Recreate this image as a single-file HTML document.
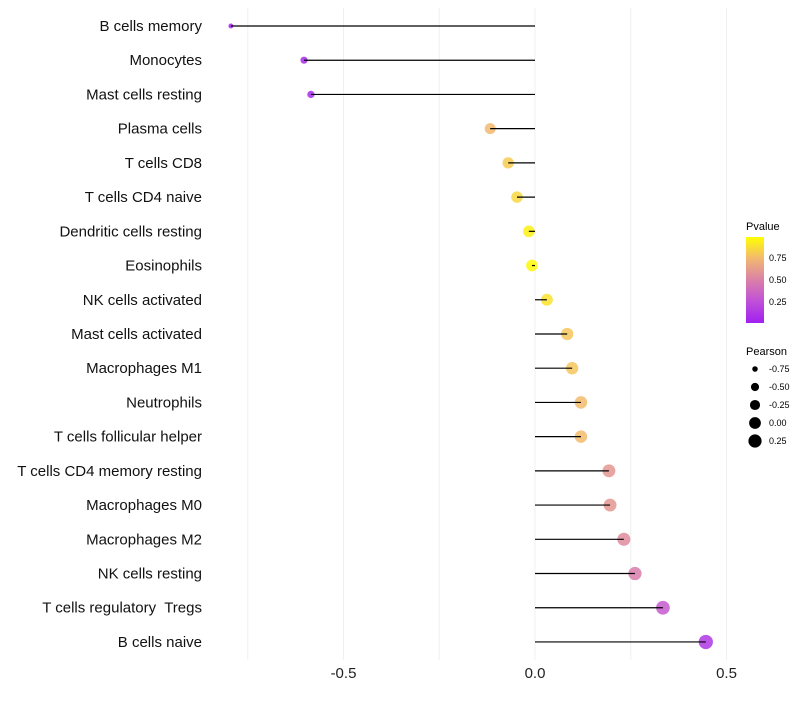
<!DOCTYPE html>
<html><head><meta charset="utf-8"><style>
body{margin:0;background:#fff;font-family:"Liberation Sans",sans-serif}
text{white-space:pre}
</style></head><body>
<svg id="chart" width="800" height="700" xmlns="http://www.w3.org/2000/svg">
<defs><linearGradient id="pg" x1="0" y1="1" x2="0" y2="0">
<stop offset="0" stop-color="#A020F0"/><stop offset="0.25" stop-color="#C050D8"/>
<stop offset="0.5" stop-color="#DA80A8"/><stop offset="0.75" stop-color="#F2B870"/>
<stop offset="1" stop-color="#FFFF00"/></linearGradient></defs>
<g id="grid"></g><g id="marks"></g><g id="labels"></g>
<g>
<text x="746" y="230" font-size="11">Pvalue</text>
<rect x="746" y="237" width="18" height="86" fill="url(#pg)"/>
<text x="769" y="261" font-size="9">0.75</text>
<text x="769" y="283" font-size="9">0.50</text>
<text x="769" y="305" font-size="9">0.25</text>
</g>
<g id="sizeleg">
<text x="746" y="355" font-size="11">Pearson</text>
</g>
</svg>
<script>
const categories=["B cells memory","Monocytes","Mast cells resting","Plasma cells","T cells CD8","T cells CD4 naive","Dendritic cells resting","Eosinophils","NK cells activated","Mast cells activated","Macrophages M1","Neutrophils","T cells follicular helper","T cells CD4 memory resting","Macrophages M0","Macrophages M2","NK cells resting","T cells regulatory  Tregs","B cells naive"];
const pearson=[-0.794,-0.603,-0.585,-0.117,-0.07,-0.047,-0.016,-0.008,0.031,0.084,0.097,0.12,0.12,0.193,0.196,0.232,0.261,0.334,0.446];
const pvalues=[0.02,0.05,0.06,0.75,0.82,0.86,0.95,0.98,0.9,0.8,0.8,0.76,0.76,0.6,0.6,0.55,0.48,0.3,0.12];
const xTicks=[-0.5,0,0.5];
const sizeLegend=[-0.75,-0.5,-0.25,0,0.25];
const NS="http://www.w3.org/2000/svg";
const x=v=>535+v*383;
const y=i=>26+i*34.22;
const rad=v=>Math.sqrt(Math.max(1,4+ (v+0.85)*36));
function col(p){const st=[[0,[160,32,240]],[0.25,[192,80,216]],[0.5,[218,128,168]],[0.75,[242,184,112]],[1,[255,255,0]]];
for(let k=1;k<st.length;k++){if(p<=st[k][0]){const t=(p-st[k-1][0])/(st[k][0]-st[k-1][0]);const a=st[k-1][1],b=st[k][1];return `rgb(${a.map((c,j)=>Math.round(c+(b[j]-c)*t)).join(",")})`;}}return "rgb(255,255,0)";}
function mk(tag,attrs,parent){const e=document.createElementNS(NS,tag);for(const k in attrs)e.setAttribute(k,attrs[k]);parent.appendChild(e);return e;}
const grid=document.getElementById('grid'),marks=document.getElementById('marks'),labels=document.getElementById('labels');
[-0.75,-0.5,-0.25,0,0.25,0.5].forEach(v=>{const l=mk('line',{x1:x(v),x2:x(v),y1:8,y2:660,stroke:'#f0f0f0','stroke-width':1},grid);

});
xTicks.forEach(v=>{const t=mk('text',{x:x(v),y:678,'font-size':15,'text-anchor':'middle',fill:'#222'},labels);t.textContent=v.toFixed(1);

});
categories.forEach((c,i)=>{
const t=mk('text',{x:202,y:y(i)+5,'font-size':15,'text-anchor':'end',fill:'#111'},labels);t.textContent=c;


const p=mk('circle',{cx:x(pearson[i]),cy:y(i),r:rad(pearson[i]),fill:col(pvalues[i]),'fill-opacity':0.85},marks);


const s=mk('line',{x1:x(0),x2:x(pearson[i]),y1:y(i),y2:y(i),stroke:'#000','stroke-width':1.2},marks);


});
const sl=document.getElementById('sizeleg');
sizeLegend.forEach((v,k)=>{const cy=369+k*18;
const c=mk('circle',{cx:755,cy:cy,r:rad(v),fill:'#000'},sl);


const t=mk('text',{x:769,y:cy+3,'font-size':9},sl);t.textContent=v.toFixed(2);

});
</script>
</body></html>
